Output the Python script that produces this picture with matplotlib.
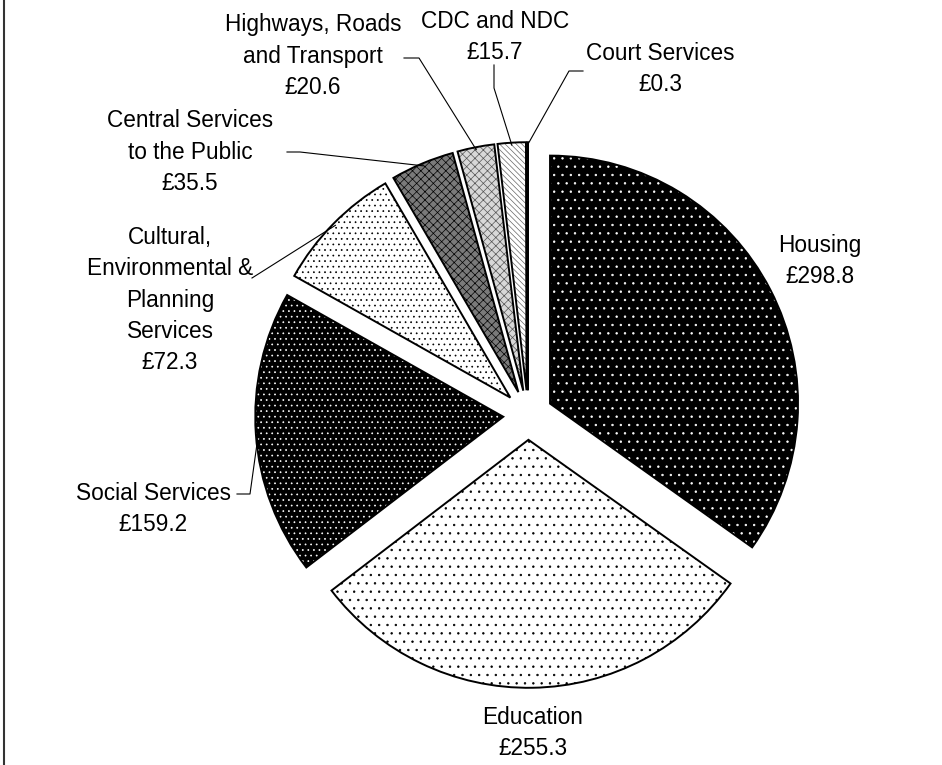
import matplotlib.pyplot as plt
from matplotlib.lines import Line2D
import numpy as np

plt.rcParams['font.family'] = ['Liberation Sans', 'DejaVu Sans']
plt.rcParams['hatch.linewidth'] = 0.5

W, H = 942, 765

services = ['Housing', 'Education', 'Social Services',
            'Cultural,\nEnvironmental &\nPlanning\nServices',
            'Central Services\nto the Public', 'Highways, Roads\nand Transport',
            'CDC and NDC', 'Court Services']
spend = [298.8, 255.3, 159.2, 72.3, 35.5, 20.6, 15.7, 0.3]

face = ['black', 'white', 'black', 'white', '#7a7a7a', '#d8d8d8', 'white', 'white']
hatch_col = ['white', 'black', 'white', 'black', 'black', '#555555', '#666666', '#666666']
hatches = ['..', '..', '...', '...', 'xxxx', 'xxxx', '\\\\\\\\\\\\', '\\\\\\\\\\\\']

# label block centres, in pixels from the top-left corner
label_pos = [(820, 261), (533, 733), (153, 509), (170, 300),
             (190, 152), (313, 56), (495, 37), (660, 69)]
# leader start / elbow points (pixels), the line then runs to the wedge arc
leaders = [None, None,
           [(237, 494), (250, 494)],
           [(252, 278)],
           [(287, 152), (300, 152)],
           [(404, 58), (419, 58)],
           [(494, 65), (494, 88)],
           [(583, 71), (569, 71)]]


def px(x, y):
    return x, H - y


fig = plt.figure(figsize=(W / 100, H / 100), dpi=100)
ax = fig.add_axes([0, 0, 1, 1])

centre = px(528, 415)
radius = 248
# pie() offsets wedges in data units, so scale by the radius
explode = [0.1 * radius] * len(spend)

# filled and hatched wedges (edge colour drives the hatch colour)
wedges, _ = ax.pie(spend, startangle=90, counterclock=False, explode=explode,
                   center=centre, radius=radius, colors=face,
                   wedgeprops=dict(linewidth=0))
for w, h, c in zip(wedges, hatches, hatch_col):
    w.set_hatch(h)
    w.set_edgecolor(c)

# black outlines on top
outline, _ = ax.pie(spend, startangle=90, counterclock=False, explode=explode,
                    center=centre, radius=radius,
                    wedgeprops=dict(fill=False, edgecolor='black', linewidth=1.4))

ax.set_xlim(0, W)
ax.set_ylim(0, H)
ax.set_aspect('equal')
ax.axis('off')

for i, w in enumerate(wedges):
    tx, ty = px(*label_pos[i])
    ax.text(tx, ty, '%s\n£%.1f' % (services[i], spend[i]), ha='center', va='center',
            multialignment='center', fontsize=16.3, linespacing=1.46, color='black')
    if leaders[i] is None:
        continue
    mid = np.deg2rad((w.theta1 + w.theta2) / 2)
    cx, cy = w.center
    end = (cx + 0.99 * w.r * np.cos(mid), cy + 0.99 * w.r * np.sin(mid))
    pts = [px(*p) for p in leaders[i]] + [end]
    xs, ys = zip(*pts)
    ax.plot(xs, ys, color='black', linewidth=0.8)

# left-hand frame line
fig.add_artist(Line2D([4 / W, 4 / W], [0, 1], transform=fig.transFigure,
                      color='#333333', linewidth=1.5))

fig.savefig('out.png', dpi=100)
